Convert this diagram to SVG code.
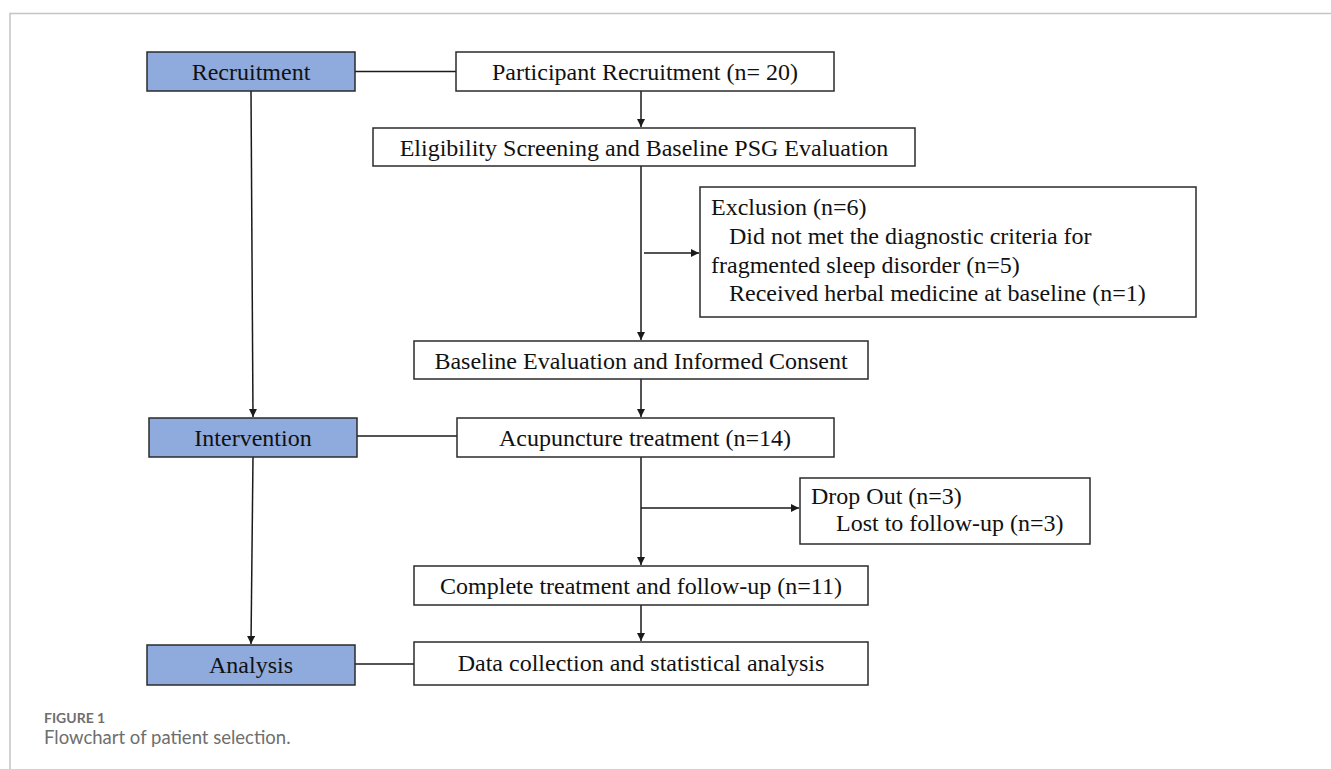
<svg xmlns="http://www.w3.org/2000/svg" width="1331" height="769" viewBox="0 0 1331 769">
<style>
.box{fill:#ffffff;stroke:#2b2b2b;stroke-width:1.5}
.phase{fill:#8faadc;stroke:#2b2b2b;stroke-width:1.5}
.t{font-family:"Liberation Serif","Times New Roman",serif;font-size:24px;fill:#111}
.c{text-anchor:middle}
.ln{stroke:#1a1a1a;stroke-width:1.5;fill:none}
.cap1{font-family:Lato,"Open Sans",sans-serif;font-size:14px;font-weight:bold;fill:#6e6e6e}
.cap2{font-family:Lato,"Open Sans",sans-serif;font-size:18.5px;fill:#6e6e6e}
</style>
<defs>
<marker id="ah" viewBox="0 0 10 10" refX="10" refY="5" markerWidth="8" markerHeight="8" markerUnits="userSpaceOnUse" orient="auto">
<path d="M0,0 L10,5 L0,10 Z" fill="#1a1a1a"/>
</marker>
</defs>
<rect width="1331" height="769" fill="#ffffff"/>
<path d="M10,769 L10,13.5 L1331,13.5" stroke="#c4c4c4" stroke-width="1.5" fill="none"/>

<g id="connectors">
<line class="ln" x1="355" y1="71.5" x2="456" y2="71.5"/>
<line class="ln" x1="641" y1="91" x2="641" y2="127" marker-end="url(#ah)"/>
<line class="ln" x1="251" y1="91" x2="253" y2="417" marker-end="url(#ah)"/>
<line class="ln" x1="641" y1="166" x2="641" y2="340" marker-end="url(#ah)"/>
<line class="ln" x1="644" y1="253" x2="699" y2="253" marker-end="url(#ah)"/>
<line class="ln" x1="641" y1="379" x2="641" y2="417" marker-end="url(#ah)"/>
<line class="ln" x1="357" y1="436" x2="457" y2="436"/>
<line class="ln" x1="641" y1="457" x2="641" y2="565" marker-end="url(#ah)"/>
<line class="ln" x1="641" y1="508" x2="799" y2="508" marker-end="url(#ah)"/>
<line class="ln" x1="253" y1="457" x2="251" y2="644" marker-end="url(#ah)"/>
<line class="ln" x1="641" y1="605" x2="641" y2="641" marker-end="url(#ah)"/>
<line class="ln" x1="355" y1="664" x2="414" y2="664"/>
</g>

<g id="recruitment">
<rect class="phase" x="147" y="52" width="208" height="39"/>
<text class="t c" x="251" y="80">Recruitment</text>
</g>
<g id="participant">
<rect class="box" x="456" y="52" width="378" height="39"/>
<text class="t c" x="645" y="80">Participant Recruitment (n= 20)</text>
</g>
<g id="eligibility">
<rect class="box" x="373" y="128" width="542" height="38"/>
<text class="t c" x="644" y="156">Eligibility Screening and Baseline PSG Evaluation</text>
</g>
<g id="exclusion">
<rect class="box" x="700" y="187" width="496" height="130"/>
<text class="t" x="711" y="215">Exclusion (n=6)</text>
<text class="t" x="729" y="244">Did not met the diagnostic criteria for</text>
<text class="t" x="711" y="272.5">fragmented sleep disorder (n=5)</text>
<text class="t" x="729" y="301">Received herbal medicine at baseline (n=1)</text>
</g>
<g id="baseline">
<rect class="box" x="414" y="341" width="454" height="38"/>
<text class="t c" x="641" y="369">Baseline Evaluation and Informed Consent</text>
</g>
<g id="intervention">
<rect class="phase" x="149" y="418" width="208" height="39"/>
<text class="t c" x="253" y="446">Intervention</text>
</g>
<g id="acupuncture">
<rect class="box" x="457" y="418" width="377" height="39"/>
<text class="t c" x="645" y="446">Acupuncture treatment (n=14)</text>
</g>
<g id="dropout">
<rect class="box" x="800" y="478" width="290" height="66"/>
<text class="t" x="811" y="504">Drop Out (n=3)</text>
<text class="t" x="836" y="531">Lost to follow-up (n=3)</text>
</g>
<g id="complete">
<rect class="box" x="414" y="566" width="454" height="39"/>
<text class="t c" x="641" y="594">Complete treatment and follow-up (n=11)</text>
</g>
<g id="analysis">
<rect class="phase" x="147" y="645" width="208" height="40"/>
<text class="t c" x="251" y="673">Analysis</text>
</g>
<g id="datacollection">
<rect class="box" x="414" y="642" width="454" height="43"/>
<text class="t c" x="641" y="671">Data collection and statistical analysis</text>
</g>

<g id="caption">
<text class="cap1" x="44" y="723">FIGURE 1</text>
<text class="cap2" x="44" y="744">Flowchart of patient selection.</text>
</g>
</svg>
